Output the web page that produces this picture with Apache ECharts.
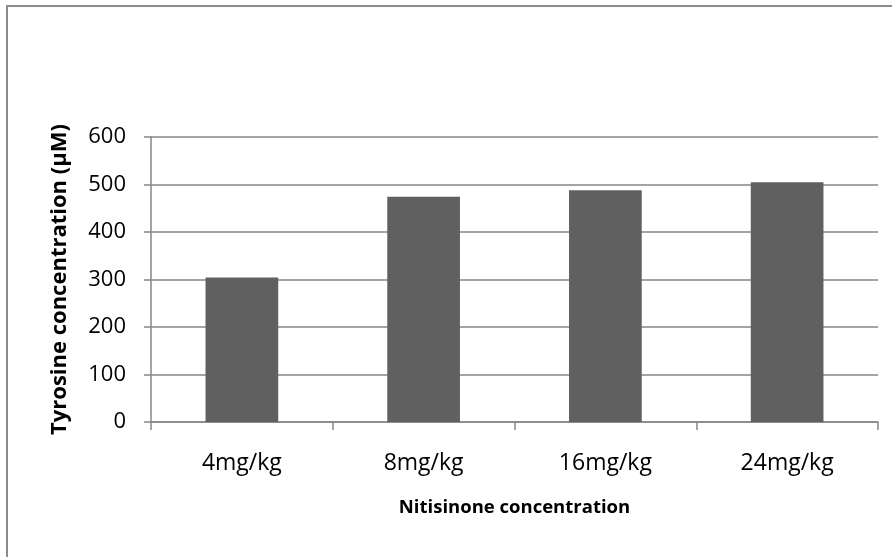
<!DOCTYPE html>
<html>
<head>
<meta charset="utf-8">
<script src="https://cdn.jsdelivr.net/npm/echarts@6/dist/echarts.min.js"></script>
<style>
html,body{margin:0;padding:0;background:#fff;}
#c{width:892px;height:557px;}
</style>
</head>
<body>
<div id="c"></div>
<script>
const categories = ['4mg/kg', '8mg/kg', '16mg/kg', '24mg/kg'];
const tyrosine = [304, 474, 488, 505];
const yTicks = [0, 100, 200, 300, 400, 500, 600];

const chart = echarts.init(document.getElementById('c'));
const FONT = 'Open Sans';
chart.setOption({
  animation: false,
  backgroundColor: '#fff',
  graphic: [{
    type: 'rect',
    shape: { x: 7, y: 6, width: 1000, height: 700 },
    style: { fill: 'none', stroke: '#8c8c8c', lineWidth: 2 }
  }],
  grid: { left: 151, right: 14, top: 137, bottom: 135 },
  xAxis: {
    type: 'category',
    data: categories,
    name: 'Nitisinone concentration',
    nameLocation: 'middle',
    nameGap: 76,
    nameTextStyle: { fontFamily: FONT, fontSize: 18.5, fontWeight: 'bold', color: '#000' },
    axisLine: { show: true, lineStyle: { color: '#868686', width: 1.5 } },
    axisTick: { show: true, alignWithLabel: false, length: 8, lineStyle: { color: '#868686', width: 1.5 } },
    axisLabel: { fontFamily: FONT, fontSize: 23, color: '#000', margin: 30 }
  },
  yAxis: {
    type: 'value',
    min: 0,
    max: 600,
    interval: 100,
    name: 'Tyrosine concentration (\u00b5M)',
    nameLocation: 'middle',
    nameGap: 80,
    nameTextStyle: { fontFamily: FONT, fontSize: 22, fontWeight: 'bold', color: '#000' },
    axisLine: { show: true, lineStyle: { color: '#868686', width: 1.5 } },
    axisTick: { show: true, length: 7, lineStyle: { color: '#868686', width: 1.5 } },
    axisLabel: {
      fontFamily: FONT, fontSize: 22, color: '#000', margin: 25,
      formatter: v => (yTicks.indexOf(v) >= 0 ? String(v) : '')
    },
    splitLine: { show: true, lineStyle: { color: '#868686', width: 1.5 } }
  },
  series: [{
    type: 'bar',
    data: tyrosine,
    barWidth: '40%',
    itemStyle: { color: '#606060' }
  }]
});
</script>
</body>
</html>
